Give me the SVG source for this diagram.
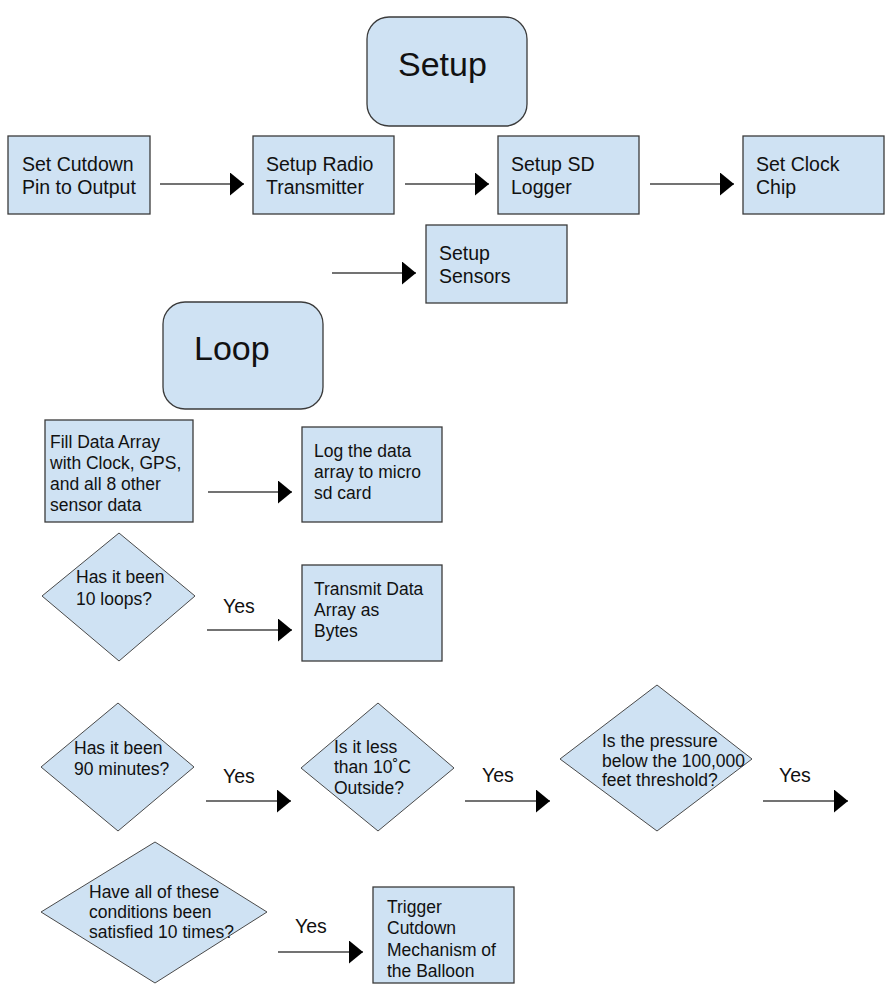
<svg xmlns="http://www.w3.org/2000/svg" width="891" height="1006" viewBox="0 0 891 1006">
<style>
  .box{fill:#cfe2f3;stroke:#3b3b3b;stroke-width:1.3}
  .dia{fill:#cfe2f3;stroke:#4a4a4a;stroke-width:1}
  .t{font-family:"Liberation Sans",Arial,sans-serif;fill:#111}
  .t19{font-size:19.5px}
  .t17{font-size:17.5px}
  .big{font-size:34px}
  .ln{stroke:#444;stroke-width:1.3;fill:none}
</style>
<defs>
  <marker id="ah" markerUnits="userSpaceOnUse" markerWidth="15" markerHeight="24" refX="14" refY="11.5" orient="auto">
    <path d="M0,0 L14,11.5 L0,23 z" fill="#000"/>
  </marker>
</defs>
<rect width="891" height="1006" fill="#fff"/>

<g id="setup">
  <rect class="box" x="367" y="17" width="160" height="109" rx="22"/>
  <text class="t big" x="398" y="76">Setup</text>
</g>
<g id="n1">
  <rect class="box" x="8" y="136" width="142" height="78"/>
  <text class="t t19" x="22" y="171">Set Cutdown</text>
  <text class="t t19" x="22" y="194">Pin to Output</text>
</g>
<g id="n2">
  <rect class="box" x="253" y="136" width="141" height="78"/>
  <text class="t t19" x="266" y="171">Setup Radio</text>
  <text class="t t19" x="266" y="194">Transmitter</text>
</g>
<g id="n3">
  <rect class="box" x="498" y="136" width="141" height="78"/>
  <text class="t t19" x="511" y="171">Setup SD</text>
  <text class="t t19" x="511" y="194">Logger</text>
</g>
<g id="n4">
  <rect class="box" x="743" y="136" width="141" height="78"/>
  <text class="t t19" x="756" y="171">Set Clock</text>
  <text class="t t19" x="756" y="194">Chip</text>
</g>
<g id="n5">
  <rect class="box" x="426" y="225" width="141" height="78"/>
  <text class="t t19" x="439" y="260">Setup</text>
  <text class="t t19" x="439" y="283">Sensors</text>
</g>
<g id="loop">
  <rect class="box" x="163" y="302" width="160" height="107" rx="22"/>
  <text class="t big" x="194" y="360">Loop</text>
</g>
<g id="fill">
  <rect class="box" x="45" y="420" width="148" height="102"/>
  <text class="t t17" x="50" y="448">Fill Data Array</text>
  <text class="t t17" x="50" y="469">with Clock, GPS,</text>
  <text class="t t17" x="50" y="490">and all 8 other</text>
  <text class="t t17" x="50" y="511">sensor data</text>
</g>
<g id="log">
  <rect class="box" x="302" y="427" width="140" height="95"/>
  <text class="t t17" x="314" y="457">Log the data</text>
  <text class="t t17" x="314" y="478">array to micro</text>
  <text class="t t17" x="314" y="499">sd card</text>
</g>
<g id="d10loops">
  <polygon class="dia" points="119,533 195,596 119,661 42,596"/>
  <text class="t t17" x="76" y="583">Has it been</text>
  <text class="t t17" x="76" y="605">10 loops?</text>
</g>
<g id="transmit">
  <rect class="box" x="302" y="565" width="140" height="96"/>
  <text class="t t17" x="314" y="595">Transmit Data</text>
  <text class="t t17" x="314" y="616">Array as</text>
  <text class="t t17" x="314" y="637">Bytes</text>
</g>
<g id="d90">
  <polygon class="dia" points="118,703 194,767 118,831 41,767"/>
  <text class="t t17" x="74" y="754">Has it been</text>
  <text class="t t17" x="74" y="775">90 minutes?</text>
</g>
<g id="dtemp">
  <polygon class="dia" points="378,703 454,768 378,831 301,768"/>
  <text class="t t17" x="334" y="753">Is it less</text>
  <text class="t t17" x="334" y="773">than 10˚C</text>
  <text class="t t17" x="334" y="794">Outside?</text>
</g>
<g id="dpressure">
  <polygon class="dia" points="657,685 752,759 657,831 560,759"/>
  <text class="t t17" x="602" y="747">Is the pressure</text>
  <text class="t t17" x="602" y="767">below the 100,000</text>
  <text class="t t17" x="602" y="786">feet threshold?</text>
</g>
<g id="dall">
  <polygon class="dia" points="155,842 267,912 155,983 41,912"/>
  <text class="t t17" x="89" y="898">Have all of these</text>
  <text class="t t17" x="89" y="918">conditions been</text>
  <text class="t t17" x="89" y="938">satisfied 10 times?</text>
</g>
<g id="trigger">
  <rect class="box" x="373" y="887" width="141" height="96"/>
  <text class="t t17" x="387" y="913">Trigger</text>
  <text class="t t17" x="387" y="934">Cutdown</text>
  <text class="t t17" x="387" y="956">Mechanism of</text>
  <text class="t t17" x="387" y="977">the Balloon</text>
</g>

<g id="connectors">
  <line class="ln" x1="160" y1="184" x2="244" y2="184" marker-end="url(#ah)"/>
  <line class="ln" x1="405" y1="184" x2="489" y2="184" marker-end="url(#ah)"/>
  <line class="ln" x1="650" y1="184" x2="734" y2="184" marker-end="url(#ah)"/>
  <line class="ln" x1="332" y1="273" x2="416" y2="273" marker-end="url(#ah)"/>
  <line class="ln" x1="208" y1="492" x2="292" y2="492" marker-end="url(#ah)"/>
  <line class="ln" x1="207" y1="630" x2="292" y2="630" marker-end="url(#ah)"/>
  <line class="ln" x1="206" y1="801" x2="291" y2="801" marker-end="url(#ah)"/>
  <line class="ln" x1="465" y1="801" x2="550" y2="801" marker-end="url(#ah)"/>
  <line class="ln" x1="763" y1="801" x2="848" y2="801" marker-end="url(#ah)"/>
  <line class="ln" x1="278" y1="952" x2="363" y2="952" marker-end="url(#ah)"/>
  <text class="t t19" x="223" y="613">Yes</text>
  <text class="t t19" x="223" y="783">Yes</text>
  <text class="t t19" x="482" y="782">Yes</text>
  <text class="t t19" x="779" y="782">Yes</text>
  <text class="t t19" x="295" y="933">Yes</text>
</g>
</svg>
